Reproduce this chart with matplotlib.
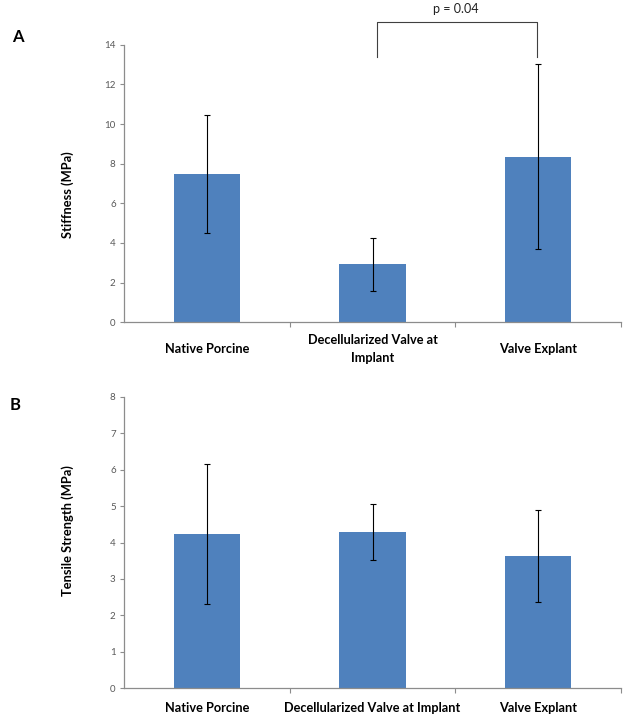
import matplotlib
matplotlib.use("Agg")
import matplotlib.pyplot as plt
import numpy as np

plt.rcParams['font.family'] = ['Lato', 'DejaVu Sans']

categories_a = ["Native Porcine", "Decellularized Valve at\nImplant", "Valve Explant"]
stiffness = [7.49, 2.92, 8.35]
stiffness_err = [2.97, 1.33, 4.67]

categories_b = ["Native Porcine", "Decellularized Valve at Implant", "Valve Explant"]
tensile = [4.22, 4.29, 3.63]
tensile_err = [1.92, 0.77, 1.27]

p_text = "p = 0.04"

bar_color = "#4F81BD"
axis_color = "#8C8C8C"
tick_color = "#595959"

fig = plt.figure(figsize=(6.25, 7.18), dpi=100)
W, H = 625, 718

def make_axes(top_px, bottom_px):
    left, right = 124, 621
    return fig.add_axes([left / W, 1 - bottom_px / H, (right - left) / W, (bottom_px - top_px) / H])

axA = make_axes(44.7, 322.3)
axB = make_axes(396.7, 688.3)

def style(ax, cats, ymax, ystep, label, label_y, pad_pt):
    x = np.arange(len(cats))
    ax.set_xlim(-0.5, len(cats) - 0.5)
    ax.set_ylim(0, ymax)
    ax.set_yticks(np.arange(0, ymax + 0.001, ystep))
    ax.set_xticks(x)
    ax.set_xticklabels(cats, fontsize=9.2, fontweight='bold', color='black', linespacing=1.55)
    for t in ax.get_xticklabels():
        t.set_va('center')
        t.set_multialignment('center')
    ax.set_xticks(np.arange(0.5, len(cats)), minor=True)
    ax.tick_params(axis='x', which='major', length=0, pad=pad_pt)
    ax.tick_params(axis='x', which='minor', length=3.5, color=axis_color, width=0.8)
    ax.tick_params(axis='y', length=3, color=axis_color, width=0.8, labelsize=7, labelcolor=tick_color, pad=3)
    for s in ['top', 'right']:
        ax.spines[s].set_visible(False)
    for s in ['left', 'bottom']:
        ax.spines[s].set_color(axis_color)
        ax.spines[s].set_linewidth(0.9)
    ax.set_ylabel(label, fontsize=9.3, fontweight='bold')
    ax.yaxis.set_label_coords(-0.113, label_y)
    ax.yaxis.label.set_va('center')

style(axA, categories_a, 14, 2, "Stiffness (MPa)", 0.46, 19.4)
style(axB, categories_b, 8, 1, "Tensile Strength (MPa)", 0.54, 14.4)

for ax, vals, errs in [(axA, stiffness, stiffness_err), (axB, tensile, tensile_err)]:
    x = np.arange(len(vals))
    ax.bar(x, vals, width=0.4, color=bar_color, zorder=2)
    ax.errorbar(x, vals, yerr=errs, fmt='none', ecolor='black', elinewidth=0.8,
                capsize=2, capthick=0.8, zorder=3)

# significance bracket
bx = [1.03, 1.03, 1.99, 1.99]
by = [13.36, 15.12, 15.12, 13.36]
axA.plot(bx, by, color='#404040', lw=0.8, clip_on=False)
axA.text(1.5, 15.8, p_text, ha='center', va='center', fontsize=9, color='#222222', clip_on=False)

fig.text(12 / W, 1 - 37 / H, "A", fontsize=12, fontweight='bold', ha='left', va='center')
fig.text(10 / W, 1 - 405 / H, "B", fontsize=12, fontweight='bold', ha='left', va='center')

fig.savefig("out.png", dpi=100, facecolor='white')
